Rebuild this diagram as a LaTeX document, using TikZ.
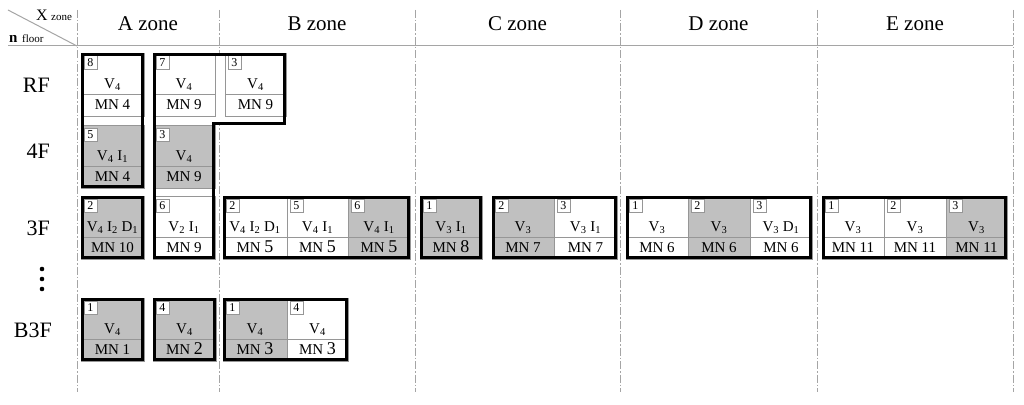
\documentclass[tikz,border=0pt]{standalone}
\usepackage{fontspec}
\setmainfont{Liberation Serif}
\definecolor{cellgray}{RGB}{192,192,192}
\definecolor{thingray}{RGB}{150,150,150}
\definecolor{gridgray}{RGB}{165,165,165}
\tikzset{
  thinline/.style={draw=thingray, line width=0.8pt},
  thickline/.style={draw=black, line width=3pt, line join=miter},
  gridline/.style={draw=gridgray, line width=1pt, dash pattern=on 8pt off 2pt on 1.5pt off 2pt},
  numbox/.style={draw=thingray, fill=white, line width=0.7pt, minimum size=13pt, inner sep=0pt, font=\fontsize{12}{12}\selectfont},
  celltext/.style={inner sep=0pt, font=\fontsize{15}{15}\selectfont},
  zonetext/.style={inner sep=0pt, font=\fontsize{21}{21}\selectfont},
  floortext/.style={inner sep=0pt, font=\fontsize{22}{22}\selectfont},
}
\newcommand\bigdig[1]{{\fontsize{18}{18}\selectfont #1}}
\newcommand\sub[1]{\textsubscript{#1}}
% #1 name, #2 x1, #3 x2, #4 top, #5 fill, #6 number, #7 V text, #8 MN text
\newcommand\cellbox[8]{%
  \pgfmathsetmacro\cxx{(#2+#3)/2}%
  \fill[#5] (#2,#4) rectangle (#3,#4+63);
  \draw[thinline] (#2,#4) rectangle (#3,#4+63);
  \draw[thinline] (#2,#4+41) -- (#3,#4+41);
  \node[numbox, anchor=north west] (#1n) at (#2+2.5,#4+2.5) {#6};
  \node[celltext, anchor=base] (#1v) at (\cxx,#4+35) {#7};
  \node[celltext, anchor=base] (#1m) at (\cxx,#4+56) {#8};
}
\begin{document}
\begin{tikzpicture}[x=1pt,y=-1pt]
\useasboundingbox (0,0) rectangle (1024,404);
\fill[white] (0,0) rectangle (1024,404);
% grid
\foreach \gx/\gn in {77/ga,219/gb,415/gc,620/gd,817/ge,1013/gf}{
  \coordinate (\gn top) at (\gx,10);
  \coordinate (\gn bot) at (\gx,392);
  \draw[gridline] (\gn top) -- (\gn bot);
}
\coordinate (hl) at (8,46);
\coordinate (hr) at (1013,46);
\draw[gridgray, line width=1pt] (hl) -- (hr);
\coordinate (dg1) at (8,10);
\coordinate (dg2) at (77,46);
\draw[gridgray, line width=1pt] (dg1) -- (dg2);
% corner labels
\node[inner sep=0pt, anchor=base west, font=\fontsize{16}{16}\selectfont] (xl) at (36,21) {X};
\node[inner sep=0pt, anchor=base west, font=\fontsize{11}{11}\selectfont] (xz) at (51,21) {zone};
\node[inner sep=0pt, anchor=base west, font=\bfseries\fontsize{15}{15}\selectfont] (nl) at (9,42) {n};
\node[inner sep=0pt, anchor=base west, font=\fontsize{11}{11}\selectfont] (nf) at (22,42) {floor};
% zone headers
\node[zonetext, anchor=base] (za) at (148,31) {A zone};
\node[zonetext, anchor=base] (zb) at (317,31) {B zone};
\node[zonetext, anchor=base] (zc) at (517.5,31) {C zone};
\node[zonetext, anchor=base] (zd) at (718.5,31) {D zone};
\node[zonetext, anchor=base] (ze) at (915,31) {E zone};
% floor labels
\node[floortext, anchor=base east] (frf) at (50,92) {RF};
\node[floortext, anchor=base east] (f4f) at (50,158) {4F};
\node[floortext, anchor=base east] (f3f) at (50,235) {3F};
\node[floortext, anchor=base east] (fb3) at (52,337) {B3F};
\fill (42,269) circle (2.3);
\fill (42,279) circle (2.3);
\fill (42,289) circle (2.3);
% white interior of the stepped A/B group
\fill[white] (153,53) -- (286,53) -- (286,125) -- (215,125) -- (215,259) -- (153,259) -- cycle;
% ---- cells ----
% RF
\cellbox{ar1}{81}{144}{53}{white}{8}{V\sub{4}}{MN 4}
\cellbox{ar2}{153}{215}{53}{white}{7}{V\sub{4}}{MN 9}
\cellbox{ar3}{225}{286}{53}{white}{3}{V\sub{4}}{MN 9}
% 4F
\cellbox{a41}{81}{144}{125}{cellgray}{5}{V\sub{4} I\sub{1}}{MN 4}
\cellbox{a42}{153}{215}{125}{cellgray}{3}{V\sub{4}}{MN 9}
% 3F
\cellbox{a31}{81}{144}{196}{cellgray}{2}{V\sub{4} I\sub{2} D\sub{1}}{MN 10}
\cellbox{a32}{153}{215}{196}{white}{6}{V\sub{2} I\sub{1}}{MN 9}
\cellbox{b31}{223}{287}{196}{white}{2}{V\sub{4} I\sub{2} D\sub{1}}{MN \bigdig{5}}
\cellbox{b32}{287}{348}{196}{white}{5}{V\sub{4} I\sub{1}}{MN \bigdig{5}}
\cellbox{b33}{348}{410}{196}{cellgray}{6}{V\sub{4} I\sub{1}}{MN \bigdig{5}}
\cellbox{c31}{420}{482}{196}{cellgray}{1}{V\sub{3} I\sub{1}}{MN \bigdig{8}}
\cellbox{c32}{492}{554}{196}{cellgray}{2}{V\sub{3}}{MN 7}
\cellbox{c33}{554}{617}{196}{white}{3}{V\sub{3} I\sub{1}}{MN 7}
\cellbox{d31}{626}{688}{196}{white}{1}{V\sub{3}}{MN 6}
\cellbox{d32}{688}{750}{196}{cellgray}{2}{V\sub{3}}{MN 6}
\cellbox{d33}{750}{812}{196}{white}{3}{V\sub{3} D\sub{1}}{MN 6}
\cellbox{e31}{822}{884}{196}{white}{1}{V\sub{3}}{MN 11}
\cellbox{e32}{884}{946}{196}{white}{2}{V\sub{3}}{MN 11}
\cellbox{e33}{946}{1007}{196}{cellgray}{3}{V\sub{3}}{MN 11}
% B3F
\cellbox{ab1}{81}{144}{298}{cellgray}{1}{V\sub{4}}{MN 1}
\cellbox{ab2}{153}{216}{298}{cellgray}{4}{V\sub{4}}{MN \bigdig{2}}
\cellbox{bb1}{223}{287}{298}{cellgray}{1}{V\sub{4}}{MN \bigdig{3}}
\cellbox{bb2}{287}{348}{298}{white}{4}{V\sub{4}}{MN \bigdig{3}}
% ---- thick group borders ----
\draw[thickline] (82.5,54.5) rectangle (142.5,186.5);
\draw[thickline] (154.5,54.5) -- (284.5,54.5) -- (284.5,123.5) -- (213.5,123.5) -- (213.5,257.5) -- (154.5,257.5) -- cycle;
\draw[thickline] (82.5,197.5) rectangle (142.5,257.5);
\draw[thickline] (224.5,197.5) rectangle (408.5,257.5);
\draw[thickline] (421.5,197.5) rectangle (480.5,257.5);
\draw[thickline] (493.5,197.5) rectangle (615.5,257.5);
\draw[thickline] (627.5,197.5) rectangle (810.5,257.5);
\draw[thickline] (823.5,197.5) rectangle (1005.5,257.5);
\draw[thickline] (82.5,299.5) rectangle (142.5,359.5);
\draw[thickline] (154.5,299.5) rectangle (214.5,359.5);
\draw[thickline] (224.5,299.5) rectangle (346.5,359.5);
\end{tikzpicture}
\end{document}
